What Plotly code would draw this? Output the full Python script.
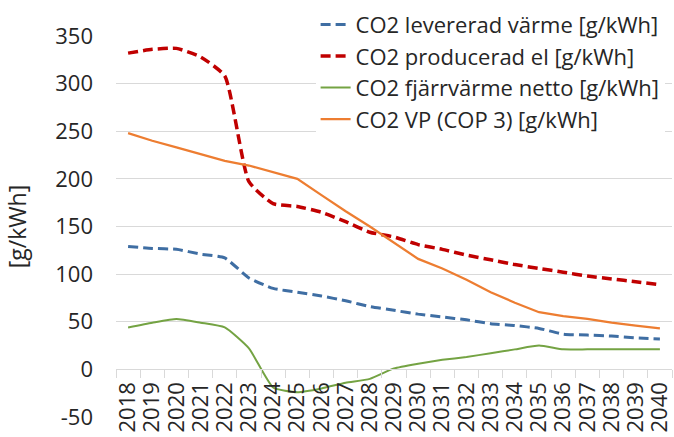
import plotly.graph_objects as go

# -- Data --------------------------------------------------------------------

years = [str(y) for y in range(2018, 2041)]

levererad_varme = [129, 127, 126, 121, 117, 96, 85, 81, 77, 72, 66, 62, 58,
                   55, 52, 48, 46, 43, 37, 36, 35, 33, 32]
producerad_el = [332, 336, 337, 328, 308, 197, 174, 171, 165, 155, 144, 139,
                 131, 126, 120, 115, 110, 106, 102, 98, 95, 92, 89]
fjarrvarme_netto = [44, 49, 53, 49, 44, 22, -19, -24, -20, -14, -10, 1, 6,
                    10, 13, 17, 21, 25, 21, 21, 21, 21, 21]
vp_cop3 = [248, 240, 233, 226, 219, 214, 207, 200, 183, 166, 150, 133, 116,
           106, 94, 81, 70, 60, 56, 53, 49, 46, 43]

y_ticks = [-50, 0, 50, 100, 150, 200, 250, 300, 350]

series = [
    ("CO2 levererad värme [g/kWh]", levererad_varme, "#3f6ea3", 3, "10px,5px", "spline"),
    ("CO2 producerad el [g/kWh]", producerad_el, "#c00000", 3.5, "10px,5px", "spline"),
    ("CO2 fjärrvärme netto [g/kWh]", fjarrvarme_netto, "#74a343", 2, "solid", "spline"),
    ("CO2 VP (COP 3) [g/kWh]", vp_cop3, "#ed7d31", 2.25, "solid", "linear"),
]

FONT = "Open Sans, sans-serif"
TXT = "#262626"

# -- Figure ------------------------------------------------------------------

fig = go.Figure()
for i, (name, vals, color, width, dash, shape) in enumerate(series):
    fig.add_trace(go.Scatter(
        x=years, y=vals, name=name, mode="lines", legendgroup=f"g{i}",
        line=dict(color=color, width=width, dash=dash, shape=shape, smoothing=0.5),
    ))

ymin, ymax = -50, 350
fig.update_layout(
    width=674, height=437,
    margin=dict(l=116, r=2, t=36, b=20, autoexpand=False),
    paper_bgcolor="white", plot_bgcolor="white",
    font=dict(family=FONT, color=TXT, size=20),
    showlegend=True,
    legend=dict(
        x=0.359, xanchor="left", y=1.085, yanchor="top",
        bgcolor="white", font=dict(size=22, color=TXT),
        itemwidth=30, tracegroupgap=0,
    ),
    xaxis=dict(
        type="category", anchor="free", position=(0 - ymin) / (ymax - ymin),
        tickmode="array", tickvals=years, ticktext=years,
        showgrid=False, showline=True, linecolor="#d9d9d9", linewidth=1,
        ticks="outside", ticklen=8, tickcolor="#d9d9d9", tickson="boundaries",
        tickangle=-90, tickfont=dict(size=22, color=TXT), automargin=False,
        ticklabelstandoff=3,
        range=[-0.5, len(years) - 0.5],
    ),
    yaxis=dict(
        range=[ymin, ymax], tickvals=y_ticks, ticktext=[str(v) for v in y_ticks],
        showgrid=True, gridcolor="#d9d9d9",
        gridwidth=1, zeroline=False, showline=False,
        tickfont=dict(size=22, color=TXT), ticklabelstandoff=22,
        title=dict(text="[g/kWh]", font=dict(size=23, color=TXT), standoff=22),
        automargin=False,
    ),
)

# drop the browser's default body margin so the figure sits at the page corner
fig.write_html(
    "out.html",
    config={"displayModeBar": False},
    post_script="document.body.style.margin='0';",
)
